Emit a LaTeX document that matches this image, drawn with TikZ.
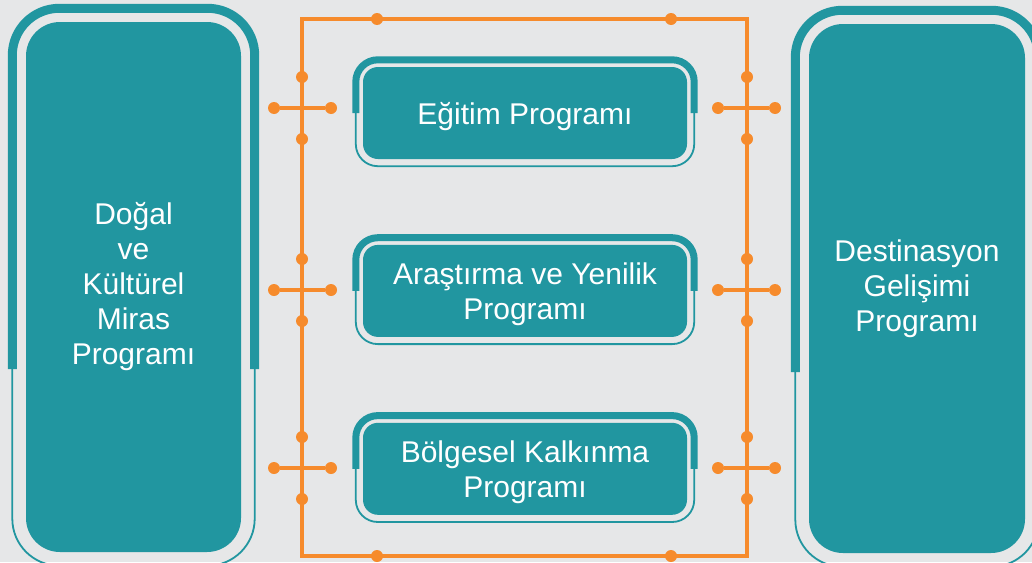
\documentclass[tikz,border=0pt]{standalone}
\usepackage{fontspec}
\setmainfont{Liberation Sans}
\usetikzlibrary{calc,positioning}
\definecolor{progteal}{RGB}{33,150,160}
\definecolor{busorange}{RGB}{246,139,44}
\definecolor{paper}{RGB}{230,231,232}
\def\rowsep{85.5pt}
\tikzset{
	every node/.style={
		font=\fontsize{30}{35}\selectfont,
		text=white
	},
	bigprog/.style={
		shape=rectangle,
		fill=progteal,
		rounded corners=34,
		minimum width=215,
		minimum height=530,
		inner sep=0,
		align=center
	},
	prog/.style={
		shape=rectangle,
		fill=progteal,
		rounded corners=15,
		minimum width=324,
		minimum height=92,
		inner sep=0,
		text depth=0pt,
		align=center
	},
	frame/.style={draw=progteal},
	bus/.style={draw=busorange, line width=3.1},
	dot/.style={circle, fill=busorange, minimum size=12, inner sep=0},
}
% thick upper half and thin lower half round a box
\newcommand\progframe[5]{%
	\draw[frame, line width=#3, rounded corners=#4] ($(#1.west)+(-#2,#5)$) |- ($(#1.north)+(0,-#2)$) -| ($(#1.east)+(#2,#5)$);
	\draw[frame, line width=1.8, rounded corners=#4] ($(#1.west)+(-#2,#5)$) |- ($(#1.south)+(0,#2)$) -| ($(#1.east)+(#2,#5)$);
}
\begin{document}
\begin{tikzpicture}[x=1pt, y=-1pt]
	\useasboundingbox (0,0) rectangle (1032,562);
	\fill[paper] (0,0) rectangle (1032,562);
	
	% orange bus
	\coordinate (bus-nw) at (302,19);
	\coordinate (bus-se) at (747,556);
	\draw[bus] (bus-nw) rectangle (bus-se);
	\foreach \x in {377,671} {
		\node[dot] (top-\x) at (\x,19) {};
		\node[dot] (bot-\x) at (\x,556) {};
	}
	\foreach \row / \y in {1/108, 2/290, 3/468} {
		\node[dot] (L\row-out) at (274,\y) {};
		\node[dot] (L\row-in) at (331,\y) {};
		\node[dot] (L\row-up) at (302,\y-31) {};
		\node[dot] (L\row-dn) at (302,\y+31) {};
		\draw[bus] (L\row-out) -- (L\row-in);
		\node[dot] (R\row-in) at (718,\y) {};
		\node[dot] (R\row-out) at (775,\y) {};
		\node[dot] (R\row-up) at (747,\y-31) {};
		\node[dot] (R\row-dn) at (747,\y+31) {};
		\draw[bus] (R\row-in) -- (R\row-out);
	}
	
	% programmes
	\node[bigprog] (kultur) at (133.5,287) {Doğal\\ve\\Kültürel\\Miras\\Programı};
	\node[bigprog, minimum width=216, minimum height=529] (destinasyon) at (917,288.5) {Destinasyon\\Gelişimi\\Programı};
	\node[prog] (egitim) at (525,113) {Eğitim Programı};
	\node[prog, below=\rowsep of egitim] (arastirma) {Araştırma ve Yenilik\\Programı};
	\node[prog, below=\rowsep of arastirma] (bolgesel) {Bölgesel Kalkınma\\Programı};
	
	\progframe{kultur}{13.5}{9}{47}{82}
	\progframe{destinasyon}{13.5}{9}{47}{83.5}
	\foreach \n in {egitim,arastirma,bolgesel} {
		\progframe{\n}{7}{7}{22}{0}
	}
\end{tikzpicture}
\end{document}
